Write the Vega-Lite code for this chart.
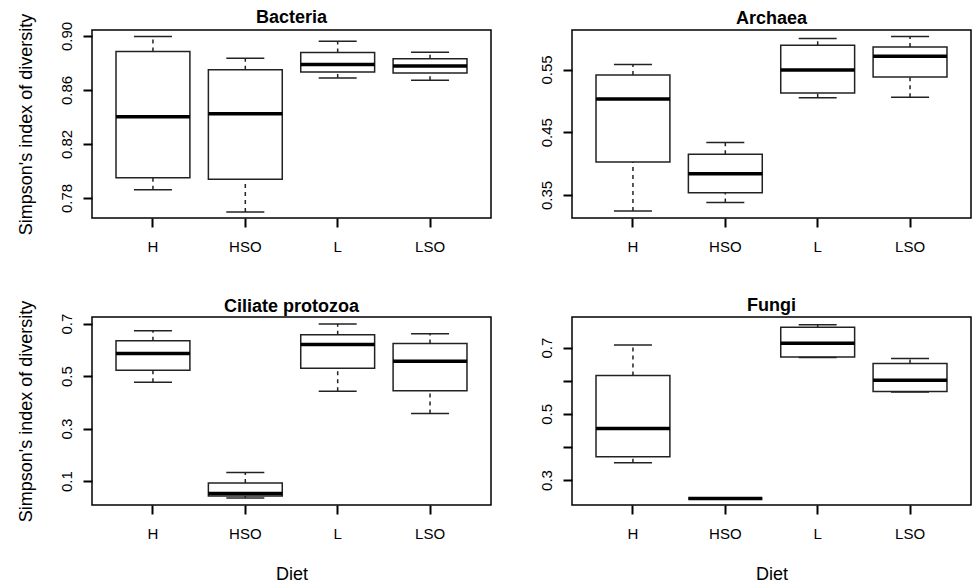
{
  "$schema": "https://vega.github.io/schema/vega-lite/v6.json",
  "background": "white",
  "padding": {"left": 16, "top": 8, "right": 0, "bottom": 0},
  "bounds": "flush",
  "columns": 2,
  "spacing": {"row": 99, "column": 81},
  "config": {
    "font": "Liberation Sans",
    "view": {"stroke": "black", "strokeWidth": 1.5},
    "axis": {"domain": false, "grid": false, "ticks": true, "tickColor": "black", "tickWidth": 2, "tickSize": 9, "labelFontSize": 15, "labelColor": "black", "labelFont": "Liberation Sans", "titleFont": "Liberation Sans", "titleFontSize": 18, "titleFontWeight": "normal", "titleColor": "black"},
    "axisX": {"labelAngle": 0, "labelPadding": 12, "titlePadding": 24},
    "axisY": {"labelAngle": -90, "labelAlign": "center", "labelBaseline": "bottom", "labelPadding": 9, "labelOverlap": false, "labelFlush": false, "titlePadding": 24},
    "tick": {"opacity": 1},
    "title": {"fontSize": 18, "fontWeight": "bold", "font": "Liberation Sans", "anchor": "middle", "frame": "group", "baseline": "alphabetic", "color": "black"}
  },
  "datasets": {
    "bacteria": [
      {"diet": "H", "lo": 0.7862, "q1": 0.7950, "med": 0.8402, "q3": 0.8884, "hi": 0.8995},
      {"diet": "HSO", "lo": 0.7696, "q1": 0.7938, "med": 0.8424, "q3": 0.8750, "hi": 0.8835},
      {"diet": "L", "lo": 0.8689, "q1": 0.8733, "med": 0.8788, "q3": 0.8877, "hi": 0.8960},
      {"diet": "LSO", "lo": 0.8672, "q1": 0.8726, "med": 0.8778, "q3": 0.8832, "hi": 0.8879}
    ],
    "archaea": [
      {"diet": "H", "lo": 0.3244, "q1": 0.4024, "med": 0.5032, "q3": 0.5414, "hi": 0.5580},
      {"diet": "HSO", "lo": 0.3382, "q1": 0.3535, "med": 0.3838, "q3": 0.4151, "hi": 0.4338},
      {"diet": "L", "lo": 0.5049, "q1": 0.5127, "med": 0.5494, "q3": 0.5887, "hi": 0.5994},
      {"diet": "LSO", "lo": 0.5059, "q1": 0.5382, "med": 0.5712, "q3": 0.5860, "hi": 0.6026}
    ],
    "ciliate": [
      {"diet": "H", "lo": 0.4768, "q1": 0.5224, "med": 0.5859, "q3": 0.6354, "hi": 0.6734},
      {"diet": "HSO", "lo": 0.0350, "q1": 0.0433, "med": 0.0525, "q3": 0.0928, "hi": 0.1323},
      {"diet": "L", "lo": 0.4426, "q1": 0.5300, "med": 0.6202, "q3": 0.6582, "hi": 0.6990},
      {"diet": "LSO", "lo": 0.3578, "q1": 0.4441, "med": 0.5567, "q3": 0.6240, "hi": 0.6620}
    ],
    "fungi": [
      {"diet": "H", "lo": 0.3523, "q1": 0.3704, "med": 0.4558, "q3": 0.6156, "hi": 0.7080},
      {"diet": "HSO", "lo": 0.2439, "q1": 0.2439, "med": 0.2439, "q3": 0.2439, "hi": 0.2439},
      {"diet": "L", "lo": 0.6699, "q1": 0.6720, "med": 0.7130, "q3": 0.7612, "hi": 0.7693},
      {"diet": "LSO", "lo": 0.5663, "q1": 0.5673, "med": 0.6015, "q3": 0.6518, "hi": 0.6668}
    ]
  },
  "concat": [
    {
      "title": {"text": "Bacteria", "offset": -14},
      "width": 399, "height": 188,
      "data": {"name": "bacteria"},
      "encoding": {"x": {"field": "diet", "type": "nominal", "sort": ["H", "HSO", "L", "LSO"], "scale": {"domain": ["H", "HSO", "L", "LSO"], "paddingInner": 0, "paddingOuter": 0.16}, "axis": {"title": null}}},
      "layer": [
        {"mark": {"type": "rule", "strokeDash": [4, 4], "strokeWidth": 1.5, "color": "#222"}, "encoding": {"y": {"field": "lo", "type": "quantitative", "scale": {"domain": [0.7652, 0.9044], "nice": false, "zero": false}, "axis": {"title": "Simpson's index of diversity", "values": [0.78, 0.8, 0.82, 0.84, 0.86, 0.88, 0.9], "format": ".2f", "labelExpr": "indexof(['0.78','0.82','0.86','0.90'], datum.label) >= 0 ? datum.label : ''"}}, "y2": {"field": "q1"}}},
        {"mark": {"type": "rule", "strokeDash": [4, 4], "strokeWidth": 1.5, "color": "#222"}, "encoding": {"y": {"field": "q3", "type": "quantitative"}, "y2": {"field": "hi"}}},
        {"mark": {"type": "bar", "fill": "white", "stroke": "#222", "strokeWidth": 1.5, "width": {"band": 0.8}}, "encoding": {"y": {"field": "q1", "type": "quantitative"}, "y2": {"field": "q3"}}},
        {"mark": {"type": "tick", "orient": "horizontal", "size": 38, "thickness": 1.5, "color": "#222"}, "encoding": {"y": {"field": "lo", "type": "quantitative"}}},
        {"mark": {"type": "tick", "orient": "horizontal", "size": 38, "thickness": 1.5, "color": "#222"}, "encoding": {"y": {"field": "hi", "type": "quantitative"}}},
        {"mark": {"type": "tick", "orient": "horizontal", "size": 74, "thickness": 3.5, "color": "black"}, "encoding": {"y": {"field": "med", "type": "quantitative"}}}
      ]
    },
    {
      "title": {"text": "Archaea", "offset": 2},
      "width": 399, "height": 188,
      "data": {"name": "archaea"},
      "encoding": {"x": {"field": "diet", "type": "nominal", "sort": ["H", "HSO", "L", "LSO"], "scale": {"domain": ["H", "HSO", "L", "LSO"], "paddingInner": 0, "paddingOuter": 0.16}, "axis": {"title": null}}},
      "layer": [
        {"mark": {"type": "rule", "strokeDash": [4, 4], "strokeWidth": 1.5, "color": "#222"}, "encoding": {"y": {"field": "lo", "type": "quantitative", "scale": {"domain": [0.3133, 0.6130], "nice": false, "zero": false}, "axis": {"title": null, "values": [0.35, 0.4, 0.45, 0.5, 0.55, 0.6], "format": ".2f", "labelExpr": "indexof(['0.35','0.45','0.55'], datum.label) >= 0 ? datum.label : ''"}}, "y2": {"field": "q1"}}},
        {"mark": {"type": "rule", "strokeDash": [4, 4], "strokeWidth": 1.5, "color": "#222"}, "encoding": {"y": {"field": "q3", "type": "quantitative"}, "y2": {"field": "hi"}}},
        {"mark": {"type": "bar", "fill": "white", "stroke": "#222", "strokeWidth": 1.5, "width": {"band": 0.8}}, "encoding": {"y": {"field": "q1", "type": "quantitative"}, "y2": {"field": "q3"}}},
        {"mark": {"type": "tick", "orient": "horizontal", "size": 38, "thickness": 1.5, "color": "#222"}, "encoding": {"y": {"field": "lo", "type": "quantitative"}}},
        {"mark": {"type": "tick", "orient": "horizontal", "size": 38, "thickness": 1.5, "color": "#222"}, "encoding": {"y": {"field": "hi", "type": "quantitative"}}},
        {"mark": {"type": "tick", "orient": "horizontal", "size": 74, "thickness": 3.5, "color": "black"}, "encoding": {"y": {"field": "med", "type": "quantitative"}}}
      ]
    },
    {
      "title": {"text": "Ciliate protozoa", "offset": -16},
      "width": 399, "height": 188,
      "data": {"name": "ciliate"},
      "encoding": {"x": {"field": "diet", "type": "nominal", "sort": ["H", "HSO", "L", "LSO"], "scale": {"domain": ["H", "HSO", "L", "LSO"], "paddingInner": 0, "paddingOuter": 0.16}, "axis": {"title": "Diet"}}},
      "layer": [
        {"mark": {"type": "rule", "strokeDash": [4, 4], "strokeWidth": 1.5, "color": "#222"}, "encoding": {"y": {"field": "lo", "type": "quantitative", "scale": {"domain": [0.0087, 0.7255], "nice": false, "zero": false}, "axis": {"title": "Simpson's index of diversity", "values": [0.1, 0.2, 0.3, 0.4, 0.5, 0.6, 0.7], "format": ".1f", "labelExpr": "indexof(['0.1','0.3','0.5','0.7'], datum.label) >= 0 ? datum.label : ''"}}, "y2": {"field": "q1"}}},
        {"mark": {"type": "rule", "strokeDash": [4, 4], "strokeWidth": 1.5, "color": "#222"}, "encoding": {"y": {"field": "q3", "type": "quantitative"}, "y2": {"field": "hi"}}},
        {"mark": {"type": "bar", "fill": "white", "stroke": "#222", "strokeWidth": 1.5, "width": {"band": 0.8}}, "encoding": {"y": {"field": "q1", "type": "quantitative"}, "y2": {"field": "q3"}}},
        {"mark": {"type": "tick", "orient": "horizontal", "size": 38, "thickness": 1.5, "color": "#222"}, "encoding": {"y": {"field": "lo", "type": "quantitative"}}},
        {"mark": {"type": "tick", "orient": "horizontal", "size": 38, "thickness": 1.5, "color": "#222"}, "encoding": {"y": {"field": "hi", "type": "quantitative"}}},
        {"mark": {"type": "tick", "orient": "horizontal", "size": 74, "thickness": 3.5, "color": "black"}, "encoding": {"y": {"field": "med", "type": "quantitative"}}}
      ]
    },
    {
      "title": {"text": "Fungi", "offset": 2},
      "width": 399, "height": 188,
      "data": {"name": "fungi"},
      "encoding": {"x": {"field": "diet", "type": "nominal", "sort": ["H", "HSO", "L", "LSO"], "scale": {"domain": ["H", "HSO", "L", "LSO"], "paddingInner": 0, "paddingOuter": 0.16}, "axis": {"title": "Diet"}}},
      "layer": [
        {"mark": {"type": "rule", "strokeDash": [4, 4], "strokeWidth": 1.5, "color": "#222"}, "encoding": {"y": {"field": "lo", "type": "quantitative", "scale": {"domain": [0.2246, 0.7925], "nice": false, "zero": false}, "axis": {"title": null, "values": [0.3, 0.4, 0.5, 0.6, 0.7], "format": ".1f", "labelExpr": "indexof(['0.3','0.5','0.7'], datum.label) >= 0 ? datum.label : ''"}}, "y2": {"field": "q1"}}},
        {"mark": {"type": "rule", "strokeDash": [4, 4], "strokeWidth": 1.5, "color": "#222"}, "encoding": {"y": {"field": "q3", "type": "quantitative"}, "y2": {"field": "hi"}}},
        {"mark": {"type": "bar", "fill": "white", "stroke": "#222", "strokeWidth": 1.5, "width": {"band": 0.8}}, "encoding": {"y": {"field": "q1", "type": "quantitative"}, "y2": {"field": "q3"}}},
        {"mark": {"type": "tick", "orient": "horizontal", "size": 38, "thickness": 1.5, "color": "#222"}, "encoding": {"y": {"field": "lo", "type": "quantitative"}}},
        {"mark": {"type": "tick", "orient": "horizontal", "size": 38, "thickness": 1.5, "color": "#222"}, "encoding": {"y": {"field": "hi", "type": "quantitative"}}},
        {"mark": {"type": "tick", "orient": "horizontal", "size": 74, "thickness": 3.5, "color": "black"}, "encoding": {"y": {"field": "med", "type": "quantitative"}}}
      ]
    }
  ]
}
